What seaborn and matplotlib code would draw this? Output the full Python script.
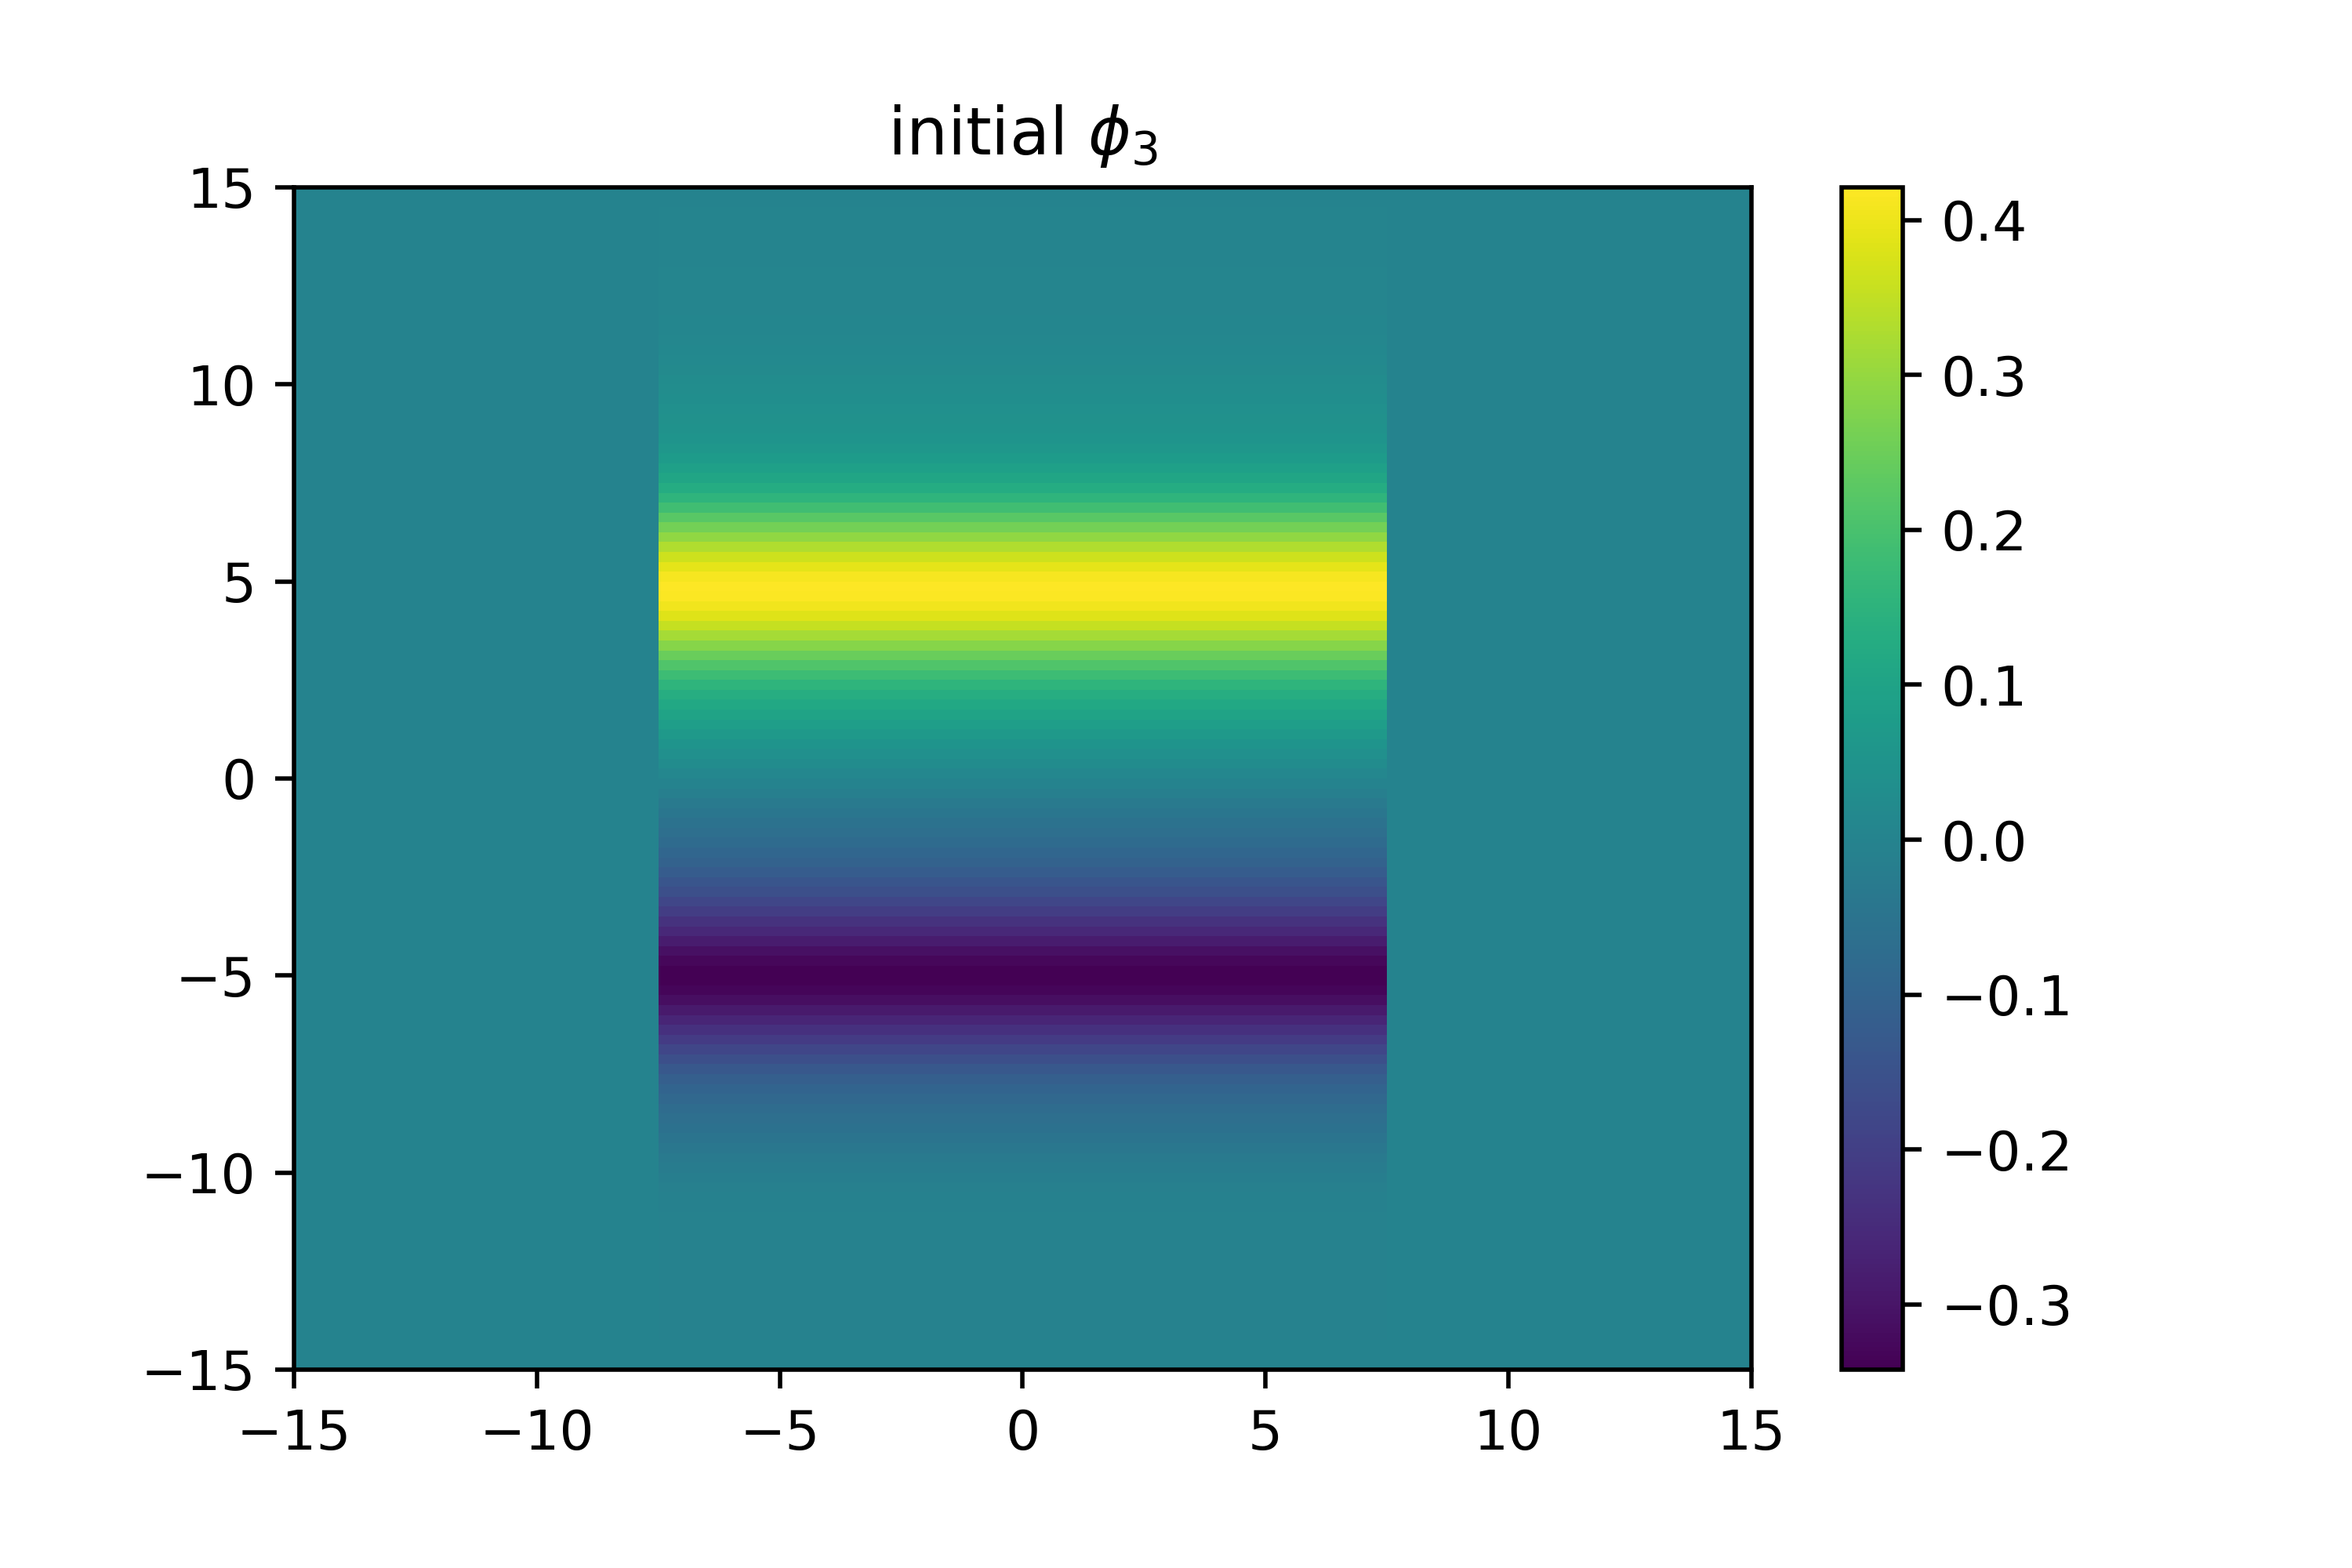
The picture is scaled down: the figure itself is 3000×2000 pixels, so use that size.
#!/usr/bin/env python3
"""
Initial field phi_3 on a 2D grid, drawn as a seaborn heatmap.
"""

import numpy as np
import pandas as pd
import matplotlib
matplotlib.use("Agg")
import matplotlib.pyplot as plt
import seaborn as sns

# grid (cell centres, step 0.25 over [-15, 15])
step = 0.25
x_centers = np.arange(-15 + step / 2, 15, step)
y_centers = np.arange(15 - step / 2, -15, -step)   # top row first

# the profile only lives inside this x band; outside it is zero
band_left = -7.5
band_right = 7.5

# phi_3 along y inside the band (top -> bottom)
profile = [
    # 14.875 .. 12.125
    0.000, 0.000, 0.001, 0.001, 0.002, 0.002, 0.003, 0.003, 0.004, 0.004, 0.005, 0.005,
    # 11.875 .. 9.125
    0.006, 0.007, 0.008, 0.010, 0.013, 0.017, 0.021, 0.025, 0.029, 0.033, 0.037, 0.041,
    # 8.875 .. 6.125
    0.047, 0.054, 0.063, 0.074, 0.088, 0.106, 0.128, 0.155, 0.188, 0.222, 0.258, 0.295,
    # 5.875 .. 3.125
    0.330, 0.362, 0.390, 0.410, 0.421, 0.418, 0.404, 0.385, 0.355, 0.318, 0.282, 0.248,
    # 2.875 .. 0.125
    0.210, 0.180, 0.155, 0.133, 0.116, 0.100, 0.084, 0.068, 0.052, 0.038, 0.025, 0.012,
    # -0.125 .. -2.875
    0.000, -0.015, -0.030, -0.043, -0.055, -0.067, -0.079, -0.092, -0.106, -0.122, -0.140, -0.160,
    # -3.125 .. -5.875
    -0.182, -0.206, -0.232, -0.258, -0.285, -0.310, -0.330, -0.341, -0.342, -0.333, -0.315, -0.290,
    # -6.125 .. -8.875
    -0.262, -0.235, -0.208, -0.183, -0.158, -0.135, -0.115, -0.100, -0.087, -0.076, -0.066, -0.057,
    # -9.125 .. -11.875
    -0.048, -0.040, -0.032, -0.025, -0.019, -0.014, -0.011, -0.009, -0.008, -0.007, -0.006, -0.006,
    # -12.125 .. -14.875
    -0.005, -0.005, -0.005, -0.004, -0.004, -0.004, -0.003, -0.003, -0.003, -0.002, -0.002, -0.002,
]

tick_values = [-15, -10, -5, 0, 5, 10, 15]
cbar_ticks = [-0.3, -0.2, -0.1, 0.0, 0.1, 0.2, 0.3, 0.4]
title = r"initial $\phi_3$"

assert len(profile) == len(y_centers)

# build the table the heatmap needs
inside = (x_centers > band_left) & (x_centers < band_right)
grid = np.outer(np.array(profile), inside.astype(float))
df = pd.DataFrame(grid, index=np.round(y_centers, 3), columns=np.round(x_centers, 3))

fig = plt.figure(figsize=(6, 4), dpi=500)
ax = fig.add_axes([0.125, 0.1265, 0.6195, 0.754])
cax = fig.add_axes([0.783, 0.1265, 0.026, 0.754])

sns.heatmap(df, ax=ax, cbar_ax=cax, cmap="viridis",
            vmin=min(profile), vmax=max(profile),
            xticklabels=False, yticklabels=False)

# map data coordinates onto heatmap cell coordinates
ax.set_xticks([(v - x_centers[0]) / step + 0.5 for v in tick_values])
ax.set_xticklabels([f"{v}".replace("-", "\u2212") for v in tick_values], rotation=0)
ax.set_yticks([(y_centers[0] - v) / step + 0.5 for v in tick_values])
ax.set_yticklabels([f"{v}".replace("-", "\u2212") for v in tick_values], rotation=0)
ax.tick_params(axis="both", length=3.5, width=0.8, labelsize=10)

for spine in ax.spines.values():
    spine.set_visible(True)
    spine.set_color("black")
    spine.set_linewidth(0.8)

cbar = ax.collections[0].colorbar
cbar.outline.set_visible(True)
cbar.outline.set_linewidth(0.8)
cbar.outline.set_edgecolor("black")
cbar.set_ticks(cbar_ticks)
cbar.ax.tick_params(length=3.5, width=0.8, labelsize=10)

ax.set_title(title, fontsize=12)

fig.savefig("out.png", dpi=500)
plt.close(fig)
